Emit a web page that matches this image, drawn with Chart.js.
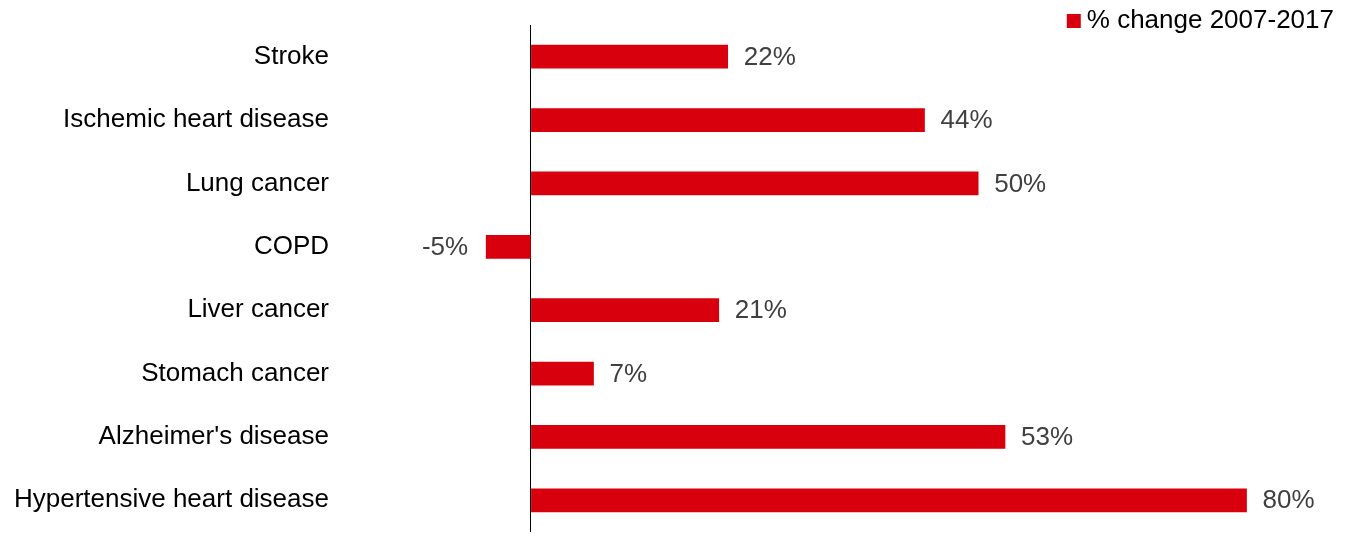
<!DOCTYPE html>
<html>
<head>
<meta charset="utf-8">
<script src="https://cdn.jsdelivr.net/npm/chart.js@4/dist/chart.umd.min.js"></script>
<style>
  html, body { margin: 0; padding: 0; background: #fff; }
  #wrap { width: 1362px; height: 541px; }
</style>
</head>
<body>
<div id="wrap"><canvas id="chart" width="1362" height="541"></canvas></div>
<script>
// Chart data
const causes = ['Stroke', 'Ischemic heart disease', 'Lung cancer', 'COPD',
                'Liver cancer', 'Stomach cancer', "Alzheimer's disease", 'Hypertensive heart disease'];
const pctChange = [22, 44, 50, -5, 21, 7, 53, 80];
const seriesName = '% change 2007-2017';

const BAR_RED = '#d9000d';
const FONT = '"Liberation Sans", Arial, sans-serif';

// Value labels at the end of each bar
const valueLabels = {
    id: 'valueLabels',
    afterDatasetsDraw(chart) {
        const ctx = chart.ctx;
        const meta = chart.getDatasetMeta(0);
        ctx.save();
        ctx.font = '26px ' + FONT;
        ctx.fillStyle = '#404040';
        ctx.textBaseline = 'middle';
        meta.data.forEach((bar, i) => {
            const v = pctChange[i];
            if (v >= 0) {
                ctx.textAlign = 'left';
                ctx.fillText(v + '%', bar.x + 16, bar.y + 1);
            } else {
                ctx.textAlign = 'right';
                ctx.fillText(v + '%', bar.x - 18, bar.y + 1);
            }
        });
        ctx.restore();
    }
};

// Legend in the top-right corner
const cornerLegend = {
    id: 'cornerLegend',
    afterDraw(chart) {
        const ctx = chart.ctx;
        ctx.save();
        ctx.font = '26px ' + FONT;
        ctx.textBaseline = 'middle';
        ctx.textAlign = 'right';
        ctx.fillStyle = '#000';
        const right = 1334;
        const w = ctx.measureText(seriesName).width;
        ctx.fillText(seriesName, right, 21);
        ctx.fillStyle = BAR_RED;
        ctx.fillRect(right - w - 20, 14, 14, 14);
        ctx.restore();
    }
};

new Chart(document.getElementById('chart'), {
    type: 'bar',
    data: {
        labels: causes,
        datasets: [{
            label: seriesName,
            data: pctChange,
            backgroundColor: BAR_RED,
            borderWidth: 0,
            barThickness: 23
        }]
    },
    options: {
        indexAxis: 'y',
        responsive: false,
        animation: false,
        layout: { padding: { top: 25, right: 26, bottom: 9, left: 0 } },
        plugins: {
            legend: { display: false },
            tooltip: { enabled: false }
        },
        scales: {
            x: {
                min: -20,
                max: 90,
                afterFit(scale) {
                    scale.height = 0;
                    scale.paddingLeft = 0;
                    scale.paddingRight = 0;
                },
                ticks: { display: false, stepSize: 5 },
                border: { display: false },
                grid: {
                    drawTicks: false,
                    lineWidth: 1,
                    color: c => c.tick && c.tick.value === 0 ? '#000' : 'rgba(0,0,0,0)'
                }
            },
            y: {
                afterFit(scale) {
                    scale.width = 352;
                    scale.paddingTop = 0;
                    scale.paddingBottom = 0;
                },
                border: { display: false },
                grid: { display: false, drawTicks: false },
                ticks: {
                    padding: 23,
                    color: '#000',
                    font: { family: FONT, size: 26 }
                }
            }
        }
    },
    plugins: [valueLabels, cornerLegend]
});
</script>
</body>
</html>
